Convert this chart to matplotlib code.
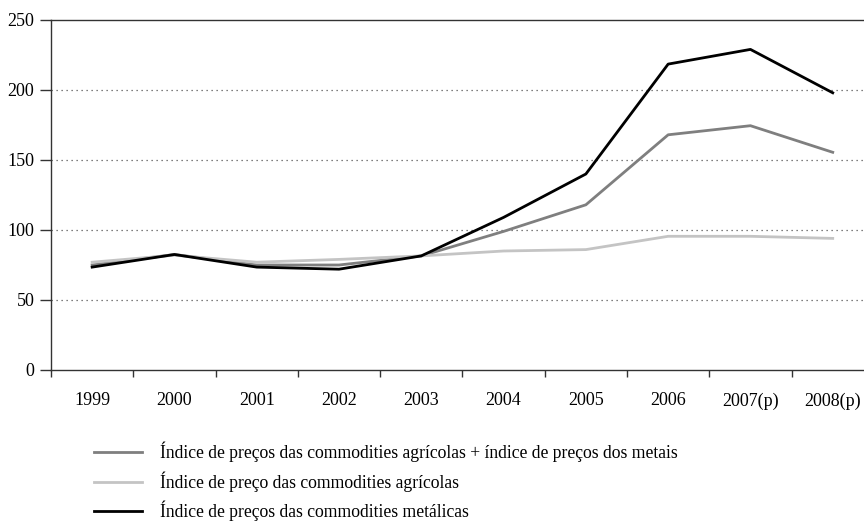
import matplotlib.pyplot as plt
from matplotlib.ticker import FixedLocator

plt.rcParams['font.family'] = ['Liberation Serif', 'DejaVu Serif']

# --- data ---
years = ['1999', '2000', '2001', '2002', '2003', '2004', '2005', '2006', '2007(p)', '2008(p)']
combined = [75, 82.5, 75, 75, 81.5, 99, 118, 168, 174.5, 155.5]
agricolas = [77, 82, 77, 79, 81.5, 85, 86, 95.5, 95.5, 94]
metalicas = [73.5, 82.5, 73.5, 72, 81.5, 109, 140, 218.5, 229, 198]

labels = [
    'Índice de preços das commodities agrícolas + índice de preços dos metais',
    'Índice de preço das commodities agrícolas',
    'Índice de preços das commodities metálicas',
]

fig = plt.figure(figsize=(8.64, 5.24), dpi=100)
ax = fig.add_axes([51 / 864, 154 / 524, 1 - 51 / 864, 350 / 524])

x = list(range(len(years)))
ax.plot(x, combined, color='#7f7f7f', lw=2, label=labels[0])
ax.plot(x, agricolas, color='#c4c4c4', lw=2, label=labels[1])
ax.plot(x, metalicas, color='black', lw=2, label=labels[2])

ax.set_ylim(0, 250)
ax.set_xlim(-0.5, 9.38)
ax.set_yticks([0, 50, 100, 150, 200, 250])
for v in [50, 100, 150, 200]:
    ax.axhline(v, color='#555555', lw=0.9, ls=(0, (1, 3)), zorder=0)

# category labels centered, ticks on category boundaries
ax.set_xticks(x)
ax.set_xticklabels(years)
ax.tick_params(axis='x', which='major', length=0, pad=16, labelsize=13)
ax.xaxis.set_minor_locator(FixedLocator([i + 0.5 for i in range(-1, 10)]))
ax.tick_params(axis='x', which='minor', length=5, width=1, color='#333333')
ax.tick_params(axis='y', length=8, width=1, color='#333333', labelsize=13, pad=4)

ax.spines['right'].set_visible(False)
for s in ['left', 'bottom', 'top']:
    ax.spines[s].set_color('#333333')
    ax.spines[s].set_linewidth(1)

fig.legend(loc='upper left', bbox_to_anchor=(78 / 864, 1 - 426 / 524),
           frameon=False, fontsize=12.7, handlelength=2.75, handletextpad=1.0,
           labelspacing=0.5)

fig.savefig('out.png', dpi=100)
